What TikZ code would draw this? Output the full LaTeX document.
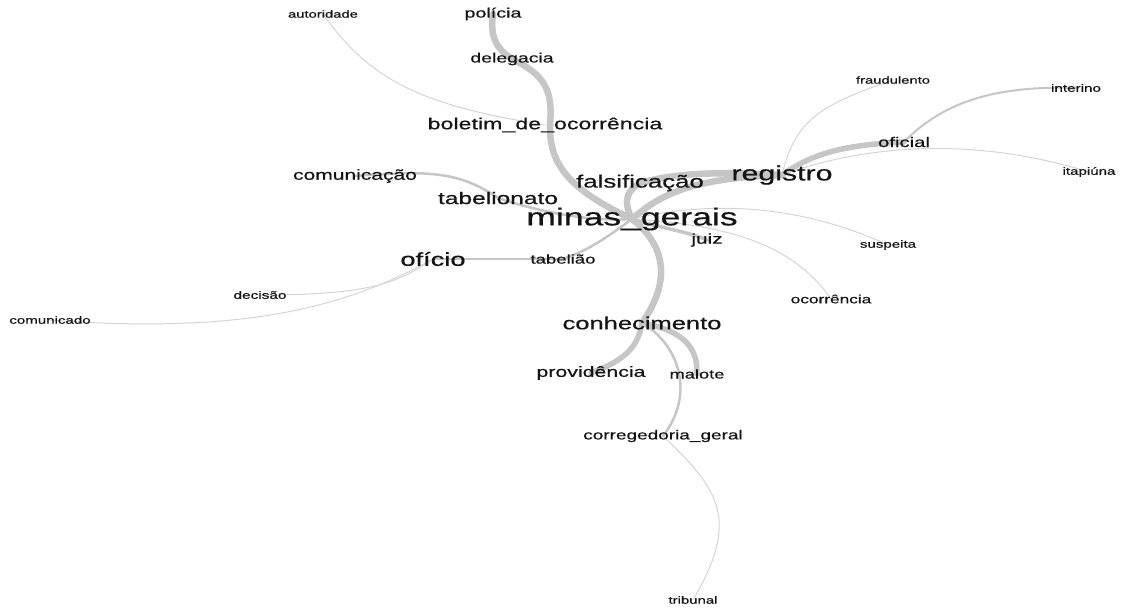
\documentclass[tikz,border=0pt]{standalone}
\usepackage{fontspec}
\usepackage{graphicx}
\setmainfont{Liberation Sans}
\newfontfamily\lblfont[FakeBold=0.5]{Liberation Sans}
\usetikzlibrary{backgrounds}
\newcommand{\lbl}[2]{\scalebox{1.45}[1]{\lblfont\fontsize{#1}{#1}\selectfont #2}}
\tikzset{
  word/.style={inner sep=0pt, text=black!92},
  heavy/.style={draw=gray!45, line width=6.5pt, line cap=round},
  midw/.style={draw=gray!45, line width=3pt, line cap=round},
  lightw/.style={draw=black!17, line width=1pt, line cap=round},
}
\begin{document}
\begin{tikzpicture}[x=1pt,y=-1pt]
\useasboundingbox (0,0) rectangle (1123,608);
% nodes
\node[word] (min) at (632,219) {\lbl{24.5}{minas\_gerais}};
\node[word] (pol) at (493,14) {\lbl{13.6}{polícia}};
\node[word] (del) at (512,59) {\lbl{13.4}{delegacia}};
\node[word] (bol) at (545,125) {\lbl{16}{boletim\_de\_ocorrência}};
\node[word] (aut) at (323,14) {\lbl{10.2}{autoridade}};
\node[word] (com) at (355,176) {\lbl{14.5}{comunicação}};
\node[word] (tbn) at (498,198) {\lbl{16.9}{tabelionato}};
\node[word] (fal) at (640,183) {\lbl{17.8}{falsificação}};
\node[word] (reg) at (782,175) {\lbl{20.9}{registro}};
\node[word] (jui) at (707,240) {\lbl{14.3}{juiz}};
\node[word] (tbl) at (563,259) {\lbl{12.8}{tabelião}};
\node[word] (ofi) at (433,259) {\lbl{18.8}{ofício}};
\node[word] (dec) at (260,295) {\lbl{10.6}{decisão}};
\node[word] (cmd) at (50,320) {\lbl{10.4}{comunicado}};
\node[word] (con) at (642,323) {\lbl{17.6}{conhecimento}};
\node[word] (pro) at (591,373) {\lbl{14.7}{providência}};
\node[word] (mal) at (697,374) {\lbl{12.6}{malote}};
\node[word] (cor) at (663,436) {\lbl{13.1}{corregedoria\_geral}};
\node[word] (tri) at (693,600) {\lbl{10.3}{tribunal}};
\node[word] (fra) at (893,80) {\lbl{10.2}{fraudulento}};
\node[word] (int) at (1076,88) {\lbl{10.5}{interino}};
\node[word] (ofc) at (904,142) {\lbl{14}{oficial}};
\node[word] (ita) at (1089,172) {\lbl{10.4}{itapiúna}};
\node[word] (sus) at (888,245) {\lbl{10.4}{suspeita}};
\node[word] (oco) at (831,299) {\lbl{11.9}{ocorrência}};
% edges
\begin{pgfonlayer}{background}
\draw[lightw] (aut.center) .. controls (370,80) and (420,105) .. (bol.center);
\draw[lightw] (reg.center) .. controls (795,120) and (820,105) .. (fra.center);
\draw[lightw] (reg.center) .. controls (850,150) and (960,132) .. (ita.center);
\draw[lightw] (min.center) .. controls (700,203) and (790,200) .. (sus.center);
\draw[lightw] (min.center) .. controls (720,225) and (790,240) .. (oco.center);
\draw[lightw] (ofi.center) .. controls (400,280) and (380,295) .. (dec.center);
\draw[lightw] (ofi.center) .. controls (350,305) and (250,335) .. (cmd.center);
\draw[lightw] (cor.center) .. controls (720,490) and (740,520) .. (tri.center);
\draw[midw,line width=2pt] (ofc.center) .. controls (940,105) and (990,85) .. (int.center);
\draw[midw,line width=2.5pt] (com.center) .. controls (430,170) and (460,172) .. (tbn.center);
\draw[midw,line width=2.5pt] (tbn.center) .. controls (540,212) and (590,222) .. (min.center);
\draw[midw,line width=2.5pt] (min.center) .. controls (610,235) and (590,250) .. (tbl.center);
\draw[midw,line width=2.5pt] (tbl.center) -- (ofi.center);
\draw[midw,line width=3.5pt] (min.center) .. controls (660,228) and (690,232) .. (jui.center);
\draw[midw,line width=2.5pt] (con.center) .. controls (680,345) and (695,395) .. (cor.center);
\draw[heavy] (pol.center) .. controls (490,35) and (495,48) .. (del.center);
\draw[heavy] (del.center) .. controls (545,75) and (553,90) .. (550,125) .. controls (549,165) and (570,190) .. (min.center);
\draw[heavy] (min.center) .. controls (622,200) and (628,190) .. (fal.center);
\draw[heavy] (fal.center) .. controls (680,172) and (720,172) .. (reg.center);
\draw[heavy] (min.center) .. controls (660,195) and (690,178) .. (reg.center);
\draw[heavy,line width=5.5pt] (reg.center) .. controls (810,155) and (840,145) .. (ofc.center);
\draw[heavy] (min.center) .. controls (665,245) and (672,280) .. (con.center);
\draw[heavy,line width=5.5pt] (con.center) .. controls (638,350) and (620,362) .. (pro.center);
\draw[heavy,line width=5.5pt] (con.center) .. controls (680,330) and (698,345) .. (mal.center);
\end{pgfonlayer}
\end{tikzpicture}
\end{document}
